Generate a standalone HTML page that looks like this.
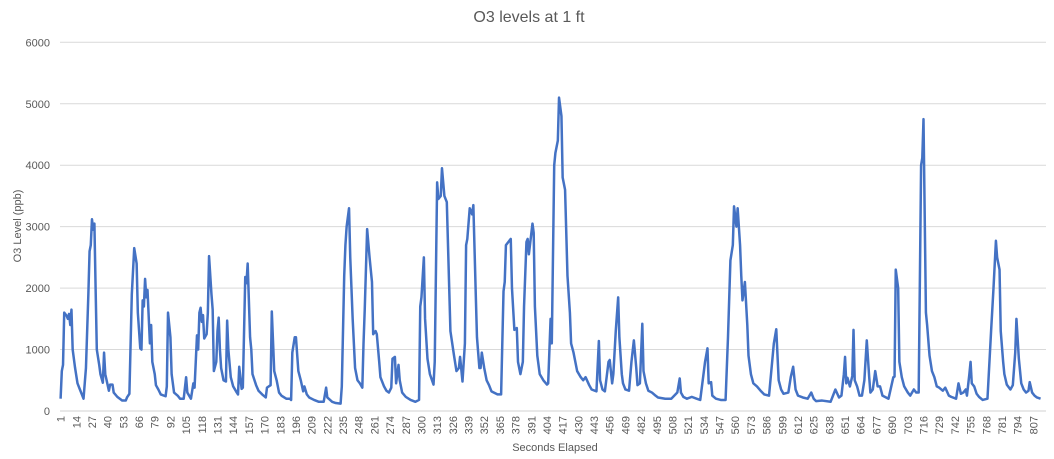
<!DOCTYPE html>
<html><head><meta charset="utf-8"><style>
body{margin:0;background:#fff;}
svg text{font-family:"Liberation Sans",sans-serif;fill:#595959;}
</style></head><body>
<svg id="chart" width="1054" height="454" xmlns="http://www.w3.org/2000/svg">
<rect width="1054" height="454" fill="#fff"/>
<text x="529" y="22" text-anchor="middle" font-size="16">O3 levels at 1 ft</text>
<text transform="translate(21,226) rotate(-90)" text-anchor="middle" font-size="11">O3 Level (ppb)</text>
<text x="555" y="451" text-anchor="middle" font-size="11">Seconds Elapsed</text>
<g id="grid"></g><g id="yt"></g><g id="xt"></g><g id="ln"></g>
</svg>
<script>
const yTicks=[0,1000,2000,3000,4000,5000,6000];
const nCats=817;
const secs=[1,2,3,4,6,7,8,9,10,11,13,15,17,20,22,24,25,26,27,28,29,30,31,33,34,36,37,38,41,42,44,45,48,52,55,56,58,60,62,64,65,67,68,69,70,71,72,73,75,76,77,79,80,82,84,88,89,90,92,93,95,98,100,103,105,106,109,111,112,114,115,116,117,118,119,120,122,123,124,126,127,128,130,131,132,133,134,136,138,139,140,142,144,147,148,149,151,152,154,155,156,158,159,160,163,165,168,171,172,175,176,178,180,182,184,188,191,192,193,195,196,198,200,202,203,205,207,211,215,219,221,222,226,229,233,234,236,237,238,240,241,243,245,247,249,251,252,253,255,257,259,260,262,263,265,266,269,271,273,275,276,278,279,281,282,284,287,291,295,298,299,300,302,303,305,307,310,311,313,314,316,317,319,321,323,324,327,329,331,332,334,336,337,338,340,342,343,345,346,348,349,350,352,354,356,358,363,366,368,369,370,372,374,375,377,379,380,382,384,385,387,388,389,392,393,394,396,398,401,404,405,407,408,410,411,413,414,416,417,419,421,423,424,426,429,432,434,436,439,441,445,447,448,450,452,455,456,458,459,461,463,464,466,467,469,472,474,476,478,479,481,483,484,486,488,491,494,496,502,507,512,514,515,517,520,524,528,531,535,537,538,540,541,544,548,552,554,556,558,559,561,562,564,565,566,568,570,571,573,575,578,581,584,588,592,594,596,598,600,604,606,608,610,612,616,620,623,625,627,632,639,643,646,648,650,651,652,653,655,657,658,659,661,663,665,667,669,671,672,674,676,678,680,682,685,687,691,692,693,695,696,698,700,703,705,708,710,712,714,715,716,718,719,721,723,725,727,729,732,734,737,739,743,745,747,749,751,752,754,755,756,758,760,762,765,769,772,774,776,777,779,780,782,783,785,788,790,792,793,795,797,799,801,803,804,806,808,810,813,817];
const vals=[200,650,750,1600,1550,1500,1580,1400,1650,1000,700,450,350,200,700,1900,2600,2700,3120,2950,3050,2000,1000,750,600,460,950,600,330,430,430,300,230,170,170,220,280,1900,2650,2400,1600,1020,1000,1800,1700,2150,1850,1970,1100,1400,800,600,420,350,270,240,400,1600,1200,600,300,250,200,200,550,300,200,450,380,1230,1000,1600,1680,1450,1560,1180,1250,1600,2520,1900,1650,650,800,1300,1520,1000,700,500,480,1470,1000,550,400,300,270,720,360,380,2180,2080,2400,1200,1000,600,420,330,270,220,380,420,1620,650,500,300,250,200,200,180,950,1200,1200,650,500,320,400,270,220,180,150,150,380,220,150,130,120,400,2200,2700,3000,3300,2500,1500,700,500,450,380,1100,1650,2960,2500,2100,1250,1300,1250,800,550,400,330,300,380,850,880,450,750,500,300,230,180,150,180,1700,1850,2500,1500,850,600,430,800,3720,3450,3500,3950,3500,3400,2000,1300,900,650,700,880,480,1100,2700,2800,3300,3200,3350,1900,1200,700,700,950,700,500,420,320,270,270,1950,2100,2700,2750,2800,2000,1320,1350,800,600,800,1700,2750,2800,2550,3050,2900,1700,900,600,500,430,450,1500,1100,4000,4200,4400,5100,4800,3800,3600,2200,1600,1100,950,650,550,500,550,420,350,320,1140,500,350,320,800,830,450,600,1300,1850,1200,600,450,350,330,800,1150,700,420,450,1420,650,450,330,300,250,220,200,200,300,530,300,230,200,230,200,180,800,1020,450,470,250,200,180,180,1200,2450,2700,3330,3000,3300,2700,2200,1800,2100,1400,900,600,450,400,330,270,250,1100,1330,500,350,280,300,550,720,350,250,220,200,300,200,160,170,150,350,220,250,600,880,450,540,400,570,1320,500,400,250,250,500,1150,550,300,350,650,400,400,250,220,200,550,560,2300,2000,800,550,400,300,250,350,300,300,4000,4120,4750,1600,1400,900,650,550,400,380,330,380,250,230,200,450,280,300,350,250,600,800,450,400,280,230,180,200,1300,2000,2770,2500,2300,1300,800,600,430,350,420,950,1500,850,450,350,300,330,470,300,250,220,200];
const L=60,R=1046,T=42.3,B=411;
const w=(R-L)/nCats;
const xS=s=>L+(s-0.5)*w;
const yS=v=>B-(v/6000)*(B-T);
const NS='http://www.w3.org/2000/svg';
const g=document.getElementById('grid'),yt=document.getElementById('yt'),xt=document.getElementById('xt'),ln=document.getElementById('ln');
yTicks.forEach(t=>{
  const l=document.createElementNS(NS,'line');
  l.setAttribute('x1',L);l.setAttribute('x2',R);l.setAttribute('y1',yS(t));l.setAttribute('y2',yS(t));
  l.setAttribute('stroke',t===0?'#d0d0d0':'#d9d9d9');l.setAttribute('stroke-width','1');
  
  
  g.appendChild(l);
  const tx=document.createElementNS(NS,'text');
  tx.setAttribute('x',50);tx.setAttribute('y',yS(t)+4);tx.setAttribute('text-anchor','end');tx.setAttribute('font-size','11');
  tx.textContent=t;
  
  
  yt.appendChild(tx);
});
for(let s=1;s<=nCats;s+=13){
  const tx=document.createElementNS(NS,'text');
  const x=xS(s)+4;
  tx.setAttribute('transform','translate('+x+',416) rotate(-90)');
  tx.setAttribute('text-anchor','end');tx.setAttribute('font-size','11');
  tx.textContent=s;
  
  
  xt.appendChild(tx);
}
const p=document.createElementNS(NS,'path');
p.setAttribute('d',secs.map((s,i)=>(i?'L':'M')+xS(s).toFixed(2)+' '+yS(vals[i]).toFixed(2)).join(''));
p.setAttribute('fill','none');p.setAttribute('stroke','#4472C4');p.setAttribute('stroke-width','2.5');p.setAttribute('stroke-linejoin','round');


ln.appendChild(p);
</script>
</body></html>
